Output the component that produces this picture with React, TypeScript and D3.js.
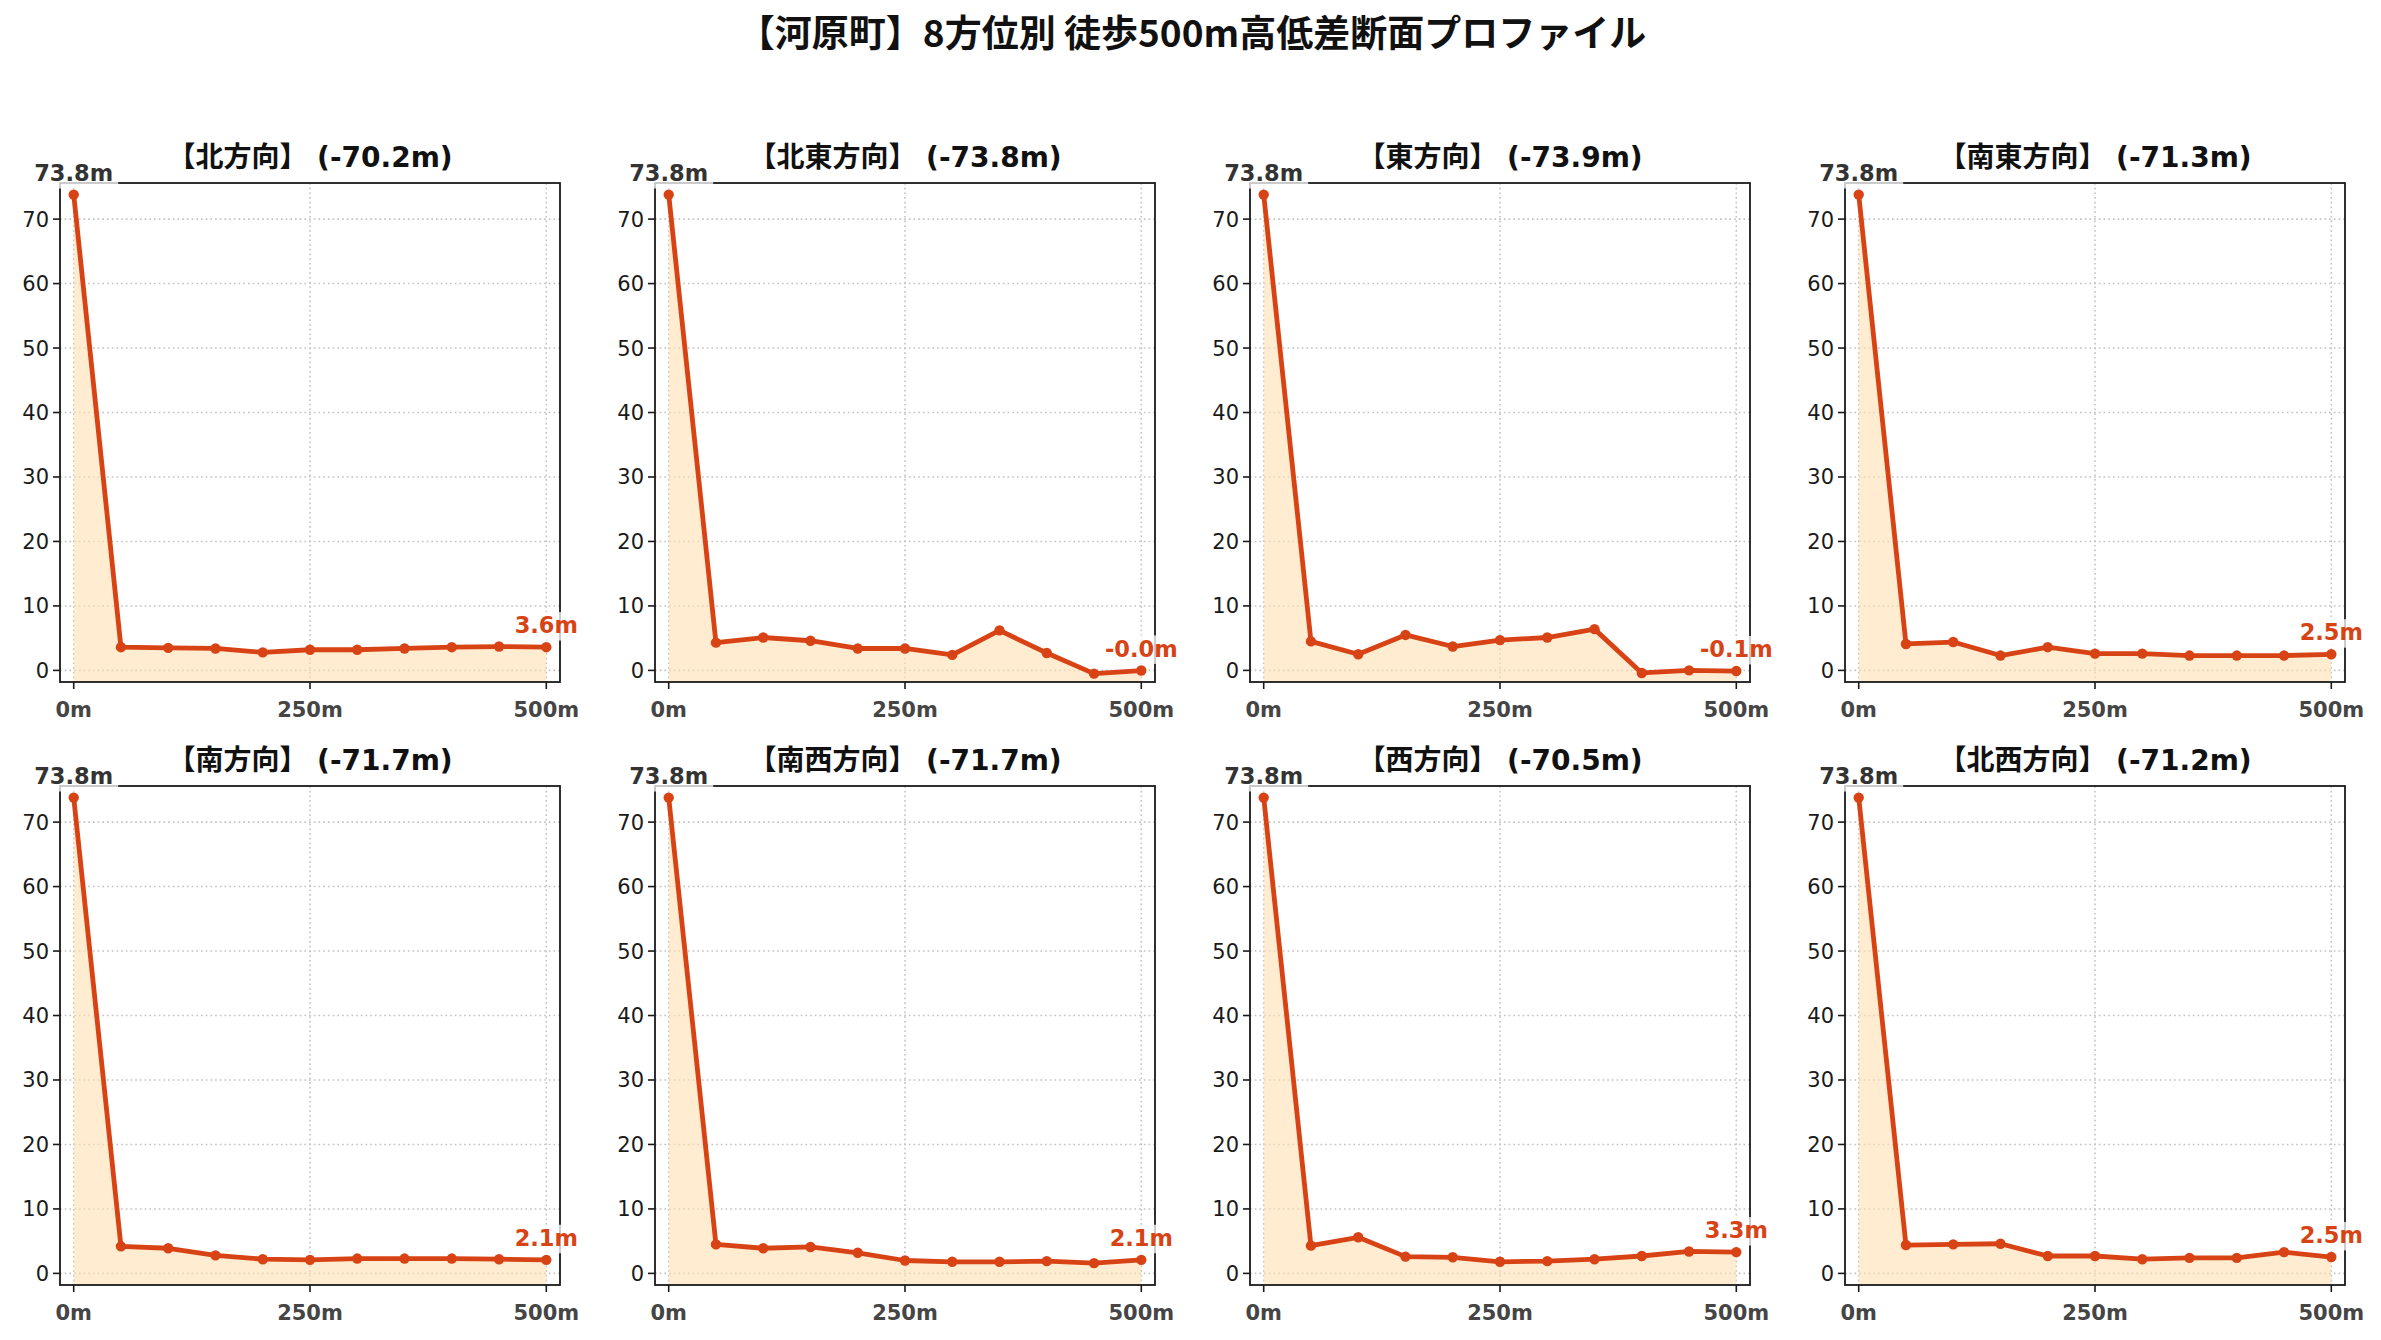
import React from "react";
import * as d3 from "d3";

const W = 2381;
const H = 1340;

const distances = [0, 50, 100, 150, 200, 250, 300, 350, 400, 450, 500];
const directions = ["北方向", "北東方向", "東方向", "南東方向", "南方向", "南西方向", "西方向", "北西方向"];
const drops = [-70.2, -73.8, -73.9, -71.3, -71.7, -71.7, -70.5, -71.2];

const northVals = [73.8, 3.6, 3.5, 3.4, 2.8, 3.2, 3.2, 3.4, 3.6, 3.7, 3.6];
const northEastVals = [73.8, 4.3, 5.1, 4.6, 3.4, 3.4, 2.4, 6.2, 2.7, -0.5, -0.02];
const eastVals = [73.8, 4.5, 2.5, 5.5, 3.7, 4.7, 5.1, 6.4, -0.4, 0.0, -0.1];
const southEastVals = [73.8, 4.1, 4.4, 2.3, 3.6, 2.6, 2.6, 2.3, 2.3, 2.3, 2.5];
const southVals = [73.8, 4.2, 3.9, 2.8, 2.2, 2.1, 2.3, 2.3, 2.3, 2.2, 2.1];
const southWestVals = [73.8, 4.5, 3.9, 4.1, 3.2, 2.0, 1.8, 1.8, 1.9, 1.6, 2.1];
const westVals = [73.8, 4.3, 5.6, 2.6, 2.5, 1.8, 1.9, 2.2, 2.7, 3.4, 3.3];
const northWestVals = [73.8, 4.4, 4.5, 4.6, 2.7, 2.7, 2.2, 2.4, 2.4, 3.3, 2.54];

const series = [northVals, northEastVals, eastVals, southEastVals, southVals, southWestVals, westVals, northWestVals];

const yTicks = [0, 10, 20, 30, 40, 50, 60, 70];
const xTicks = [0, 250, 500];
const xTickLabels = ["0m", "250m", "500m"];

const LINE = "#D84315";
const FILL = "#FFE0B2";
const FONT = "'DejaVu Sans', 'Noto Sans CJK JP', sans-serif";

const colLefts = [60, 655, 1250, 1845];
const rowTops = [183, 786];
const PW = 500;
const PH = 499;

const charW: Record<string, number> = { ".": 0.38, m: 1.042, "-": 0.415 };
function textWidth(s: string, fs: number) {
  let w = 0;
  for (const c of s) w += charW[c] ?? 0.696;
  return w * fs;
}

function Label({ x, y, text, color }: { x: number; y: number; text: string; color: string }) {
  const fs = 22.5;
  const w = textWidth(text, fs);
  return (
    <g>
      <rect
        x={x - w / 2 - 5}
        y={y - fs * 0.76 - 4}
        width={w + 10}
        height={fs * 1.0 + 6}
        fill="white"
        opacity={0.75}
      />
      <text x={x} y={y} textAnchor="middle" fontSize={fs} fontWeight="bold" fill={color} fontFamily={FONT}>
        {text}
      </text>
    </g>
  );
}

function Panel({ idx }: { idx: number }) {
  const left = colLefts[idx % 4];
  const top = rowTops[Math.floor(idx / 4)];
  const vals = series[idx];
  const x = d3.scaleLinear().domain([-14.5, 514.5]).range([left, left + PW]);
  const y = d3.scaleLinear().domain([-1.8, 75.6]).range([top + PH, top]);
  const pts = distances.map((d, i) => [d, vals[i]] as [number, number]);
  const line = d3.line<[number, number]>().x((d) => x(d[0])).y((d) => y(d[1]));
  const area = d3
    .area<[number, number]>()
    .x((d) => x(d[0]))
    .y0(top + PH)
    .y1((d) => y(d[1]));
  const last = vals[vals.length - 1];
  const title = `【${directions[idx]}】 (${drops[idx].toFixed(1)}m)`;
  return (
    <g>
      {yTicks.map((t) => (
        <line key={"gy" + t} x1={left} x2={left + PW} y1={y(t)} y2={y(t)} stroke="#c4c4c4" strokeWidth={1.6} strokeDasharray="1.7,3" />
      ))}
      {xTicks.map((t) => (
        <line key={"gx" + t} x1={x(t)} x2={x(t)} y1={top} y2={top + PH} stroke="#c4c4c4" strokeWidth={1.6} strokeDasharray="1.7,3" />
      ))}
      <path d={area(pts) || ""} fill={FILL} opacity={0.6} />
      <path d={line(pts) || ""} fill="none" stroke={LINE} strokeWidth={4.8} strokeLinejoin="round" />
      {pts.map((p, i) => (
        <circle key={i} cx={x(p[0])} cy={y(p[1])} r={5.2} fill={LINE} />
      ))}
      <rect x={left} y={top} width={PW} height={PH} fill="none" stroke="#1a1a1a" strokeWidth={1.8} />
      {yTicks.map((t) => (
        <g key={"yt" + t}>
          <line x1={left - 7} x2={left} y1={y(t)} y2={y(t)} stroke="#1a1a1a" strokeWidth={1.6} />
          <text x={left - 11} y={y(t) + 7.5} textAnchor="end" fontSize={21} fill="#1a1a1a" fontFamily={FONT}>
            {t}
          </text>
        </g>
      ))}
      {xTicks.map((t, i) => (
        <g key={"xt" + t}>
          <line x1={x(t)} x2={x(t)} y1={top + PH} y2={top + PH + 7} stroke="#1a1a1a" strokeWidth={1.6} />
          <text x={x(t)} y={top + PH + 35} textAnchor="middle" fontSize={21} fontWeight="bold" fill="#454545" fontFamily={FONT}>
            {xTickLabels[i]}
          </text>
        </g>
      ))}
      <text x={left + PW / 2} y={top - 16} textAnchor="middle" fontSize={28} fontWeight="bold" fill="#111" fontFamily={FONT}>
        {title}
      </text>
      <Label x={x(0)} y={y(vals[0]) - 13.5} text={`${vals[0].toFixed(1)}m`} color="#333" />
      <Label x={x(500)} y={y(last) - 14} text={`${last.toFixed(1)}m`} color={LINE} />
    </g>
  );
}

export default function App() {
  if (typeof document !== "undefined") document.body.style.margin = "0";
  return (
    <svg width={W} height={H} viewBox={`0 0 ${W} ${H}`} style={{ position: "absolute", left: 0, top: 0, background: "white" }}>
      <rect x={0} y={0} width={W} height={H} fill="white" />
      <text x={1192} y={47} textAnchor="middle" fontSize={37} fontWeight="bold" fill="#111" fontFamily="'Noto Sans CJK JP', sans-serif">
        【河原町】8方位別 徒歩500m高低差断面プロファイル
      </text>
      {directions.map((_, i) => (
        <Panel key={i} idx={i} />
      ))}
    </svg>
  );
}
